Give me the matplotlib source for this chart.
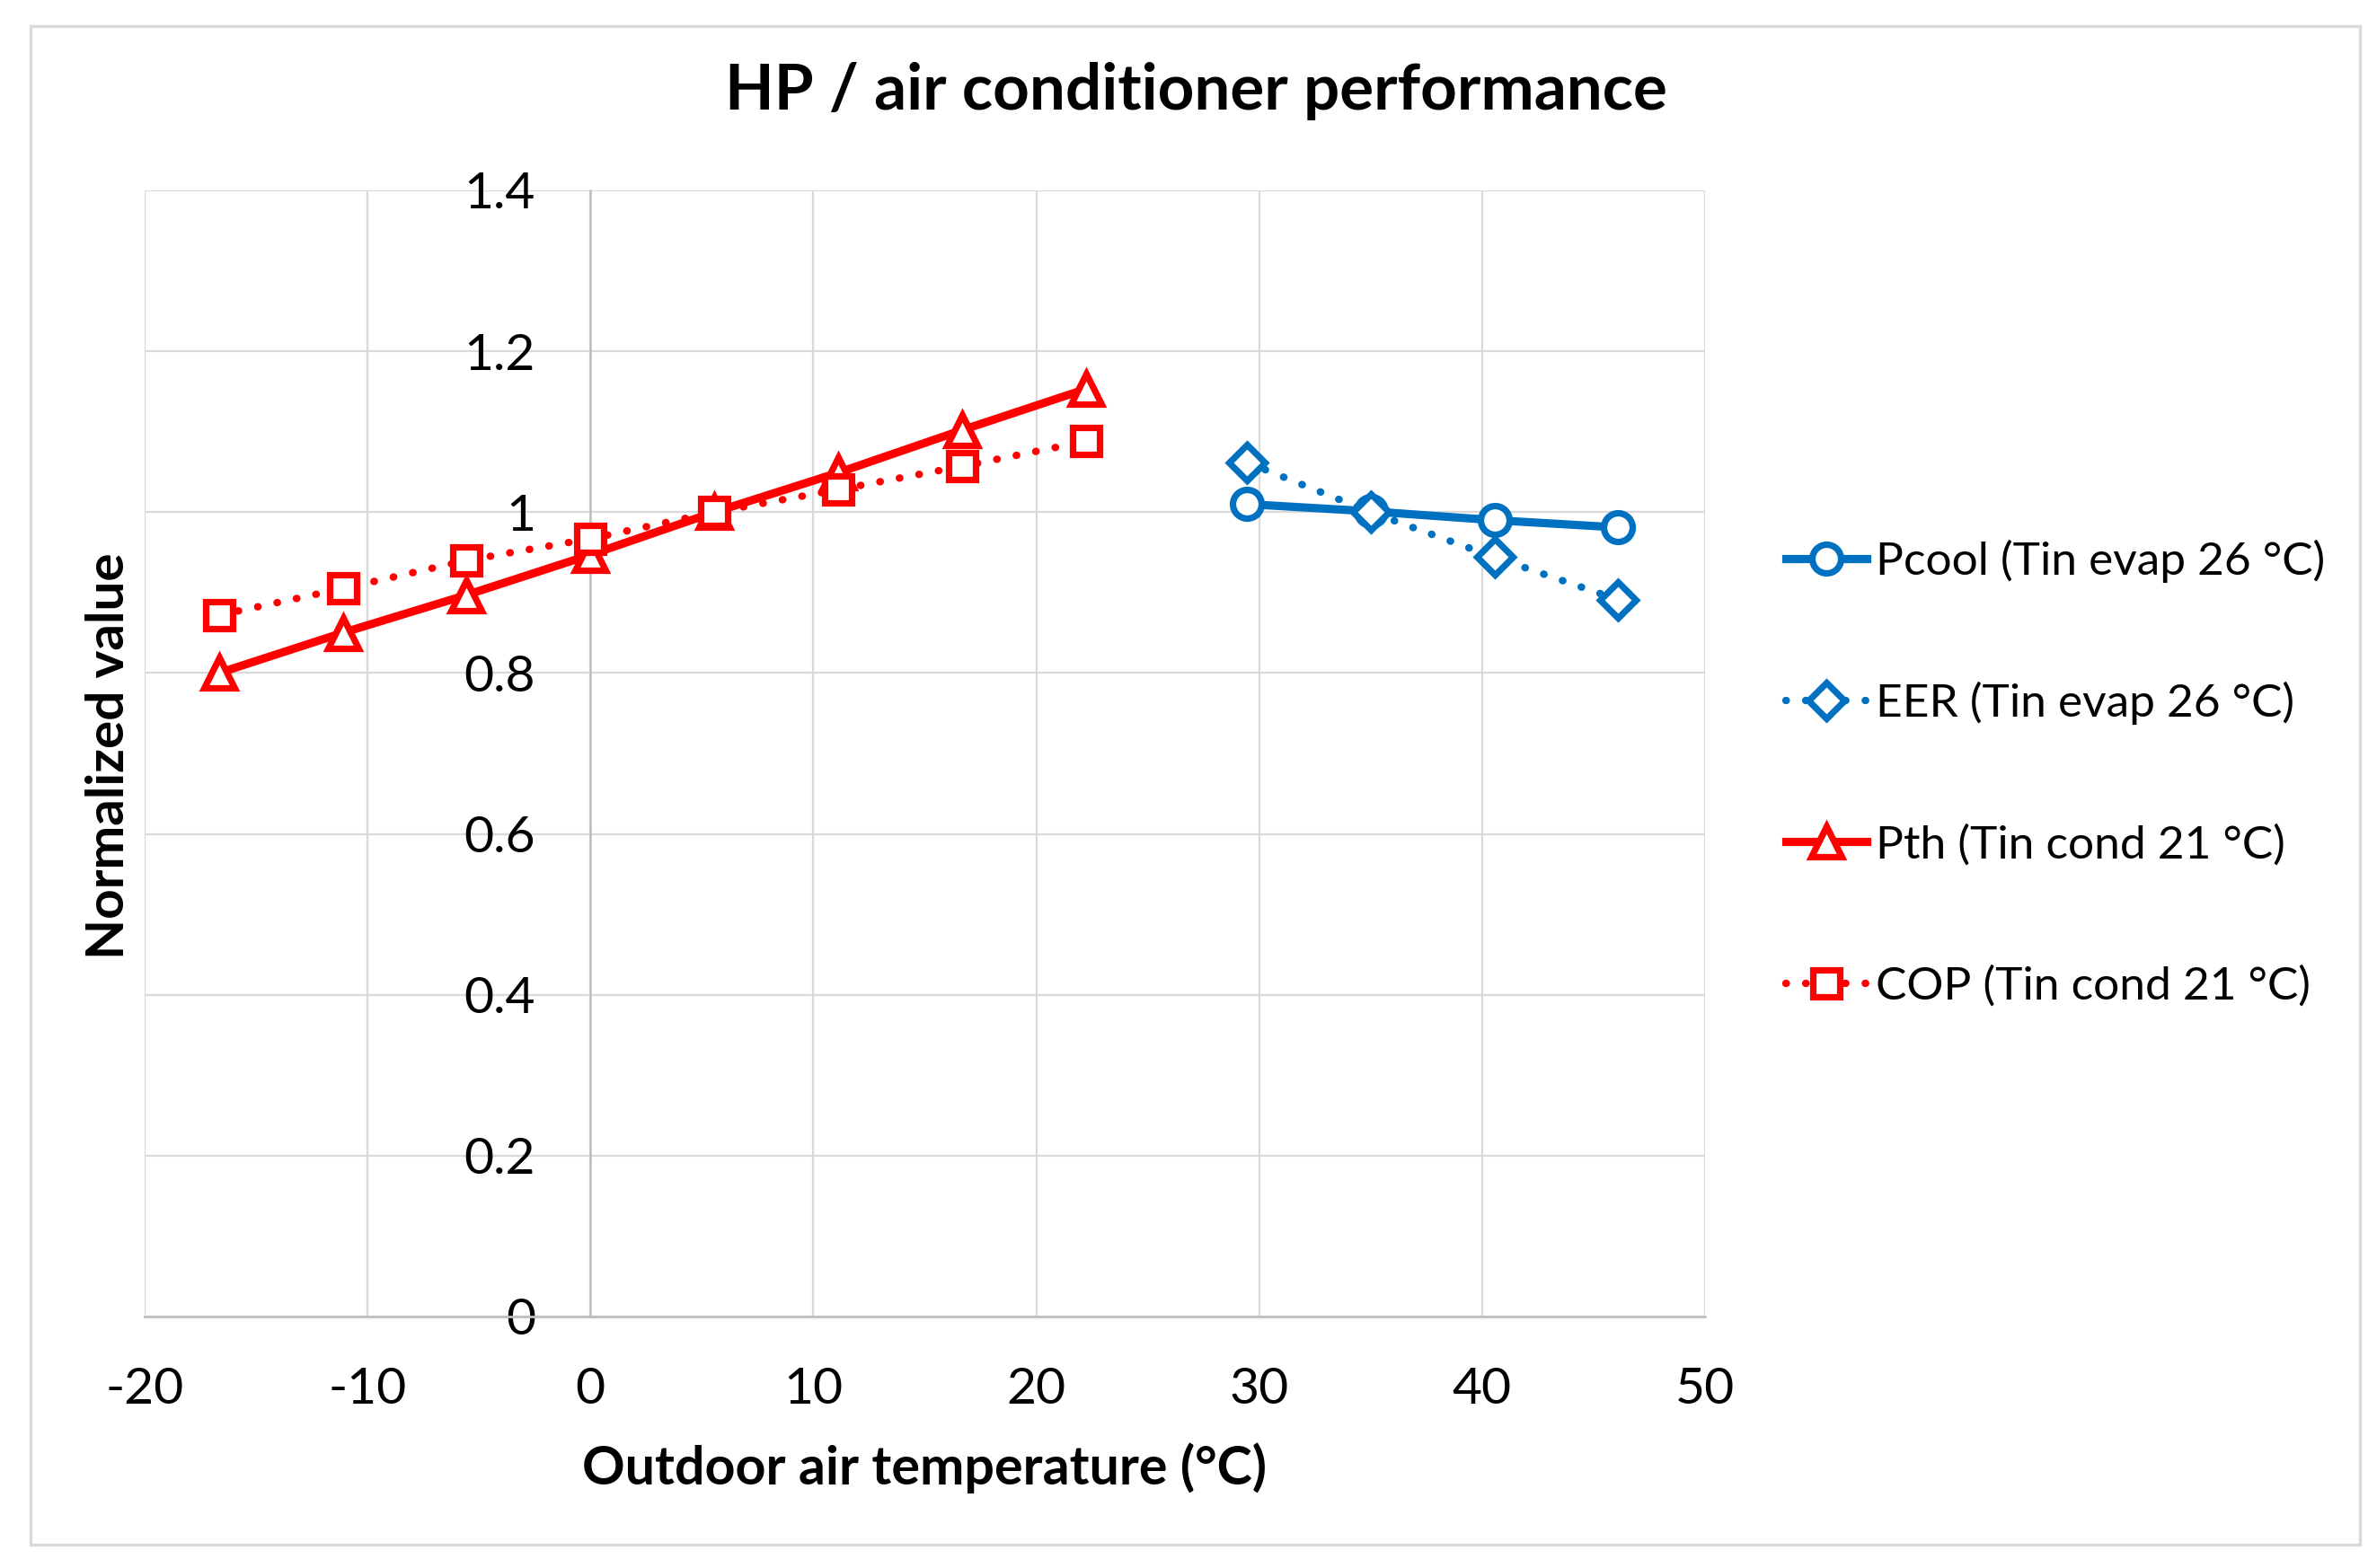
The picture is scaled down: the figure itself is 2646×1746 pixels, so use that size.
import matplotlib
matplotlib.use("Agg")
import matplotlib.pyplot as plt
from matplotlib.patches import Rectangle

# ---- data ----
t_heat = [-16.67, -11.11, -5.56, 0.0, 5.56, 11.11, 16.67, 22.22]
pth = [0.80, 0.85, 0.897, 0.947, 1.0, 1.049, 1.102, 1.153]
cop = [0.872, 0.905, 0.940, 0.967, 1.0, 1.028, 1.057, 1.088]
t_cool = [29.44, 35.0, 40.56, 46.11]
pcool = [1.010, 1.001, 0.990, 0.981]
eer = [1.062, 1.0, 0.944, 0.891]

labels = ["Pcool (Tin evap 26 °C)", "EER (Tin evap 26 °C)",
          "Pth (Tin cond 21 °C)", "COP (Tin cond 21 °C)"]
x_ticks = [-20, -10, 0, 10, 20, 30, 40, 50]
y_ticks = [0, 0.2, 0.4, 0.6, 0.8, 1.0, 1.2, 1.4]
y_tick_labels = ["0", "0.2", "0.4", "0.6", "0.8", "1", "1.2", "1.4"]

plt.rcParams['font.family'] = ['Lato', 'DejaVu Sans']
plt.rcParams['axes.unicode_minus'] = False

W, H = 2646, 1746
DPI = 200
fig = plt.figure(figsize=(W / DPI, H / DPI), dpi=DPI)

# outer chart border
fig.patches.append(Rectangle((34 / W, 1 - 1720 / H), (2627 - 34) / W, (1720 - 29) / H,
                             transform=fig.transFigure, fill=False,
                             edgecolor='#d9d9d9', lw=1.2, zorder=0))

ax = fig.add_axes([161 / W, 1 - 1466 / H, (1898 - 161) / W, (1466 - 212) / H])
ax.set_xlim(-20, 50)
ax.set_ylim(0, 1.4)

BLUE = '#0070C0'
RED = '#FF0000'
dot = (0, (0.05, 2.6))

ax.plot(t_cool, pcool, color=BLUE, lw=3.3, marker='o', ms=11.5, mew=2.6,
        mfc='white', mec=BLUE, label=labels[0], zorder=3)
ax.plot(t_cool, eer, color=BLUE, lw=3.0, ls=dot, dash_capstyle='round',
        marker='D', ms=10, mew=2.6, mfc='white', mec=BLUE, label=labels[1], zorder=4)
ax.plot(t_heat, pth, color=RED, lw=3.3, marker='^', ms=12, mew=2.6,
        mfc='white', mec=RED, label=labels[2], zorder=5)
ax.plot(t_heat, cop, color=RED, lw=3.0, ls=dot, dash_capstyle='round',
        marker='s', ms=10.5, mew=2.6, mfc='white', mec=RED, label=labels[3], zorder=6)

# grid
ax.set_xticks(x_ticks)
ax.set_yticks(y_ticks)
ax.set_yticklabels(y_tick_labels)
ax.grid(True, color='#d9d9d9', lw=0.8, zorder=0)
ax.set_axisbelow(True)
for s in ['top', 'right']:
    ax.spines[s].set_visible(False)
ax.spines['left'].set_position(('data', 0))
ax.spines['left'].set_color('#bfbfbf')
ax.spines['left'].set_linewidth(0.9)
ax.spines['bottom'].set_color('#bfbfbf')
ax.spines['bottom'].set_linewidth(1.0)
ax.tick_params(axis='both', length=0, labelsize=20.5, colors='black')
ax.tick_params(axis='y', pad=22)
ax.tick_params(axis='x', pad=20)

ax.set_xlabel("Outdoor air temperature (°C)", fontsize=21.3, fontweight='bold', labelpad=12)
fig.text(122 / W, 1 - 842 / H, "Normalized value", rotation=90, fontsize=21,
         fontweight='bold', ha='center', va='center')
fig.text(1331 / W, 1 - 102 / H, "HP / air conditioner performance", fontsize=25.5,
         fontweight='bold', ha='center', va='center')

fig.legend(loc='center left', bbox_to_anchor=(1988 / W, 1 - 861 / H), frameon=False,
           fontsize=18.5, numpoints=1, handlelength=1.75, handletextpad=0.2,
           labelspacing=2.15, borderpad=0, borderaxespad=0)

fig.savefig("out.png", dpi=DPI)
